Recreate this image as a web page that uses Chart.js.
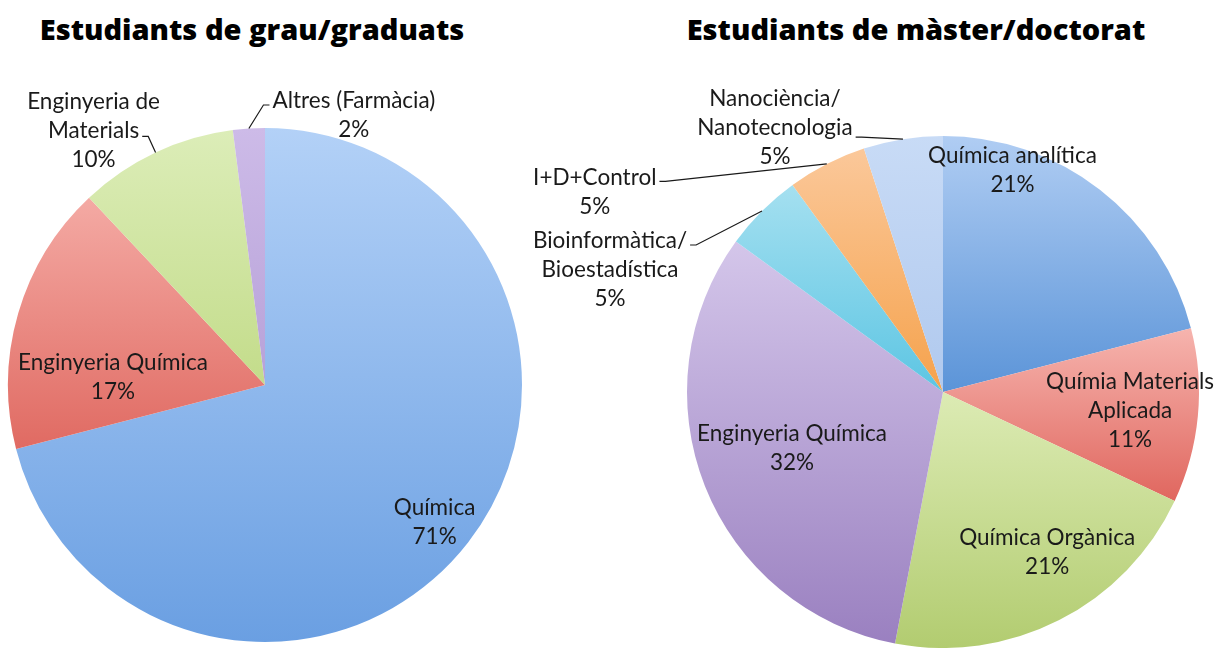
<!doctype html>
<html lang="ca">
<head>
  <meta charset="utf-8">
  <title>Estudiants de grau i màster</title>
  <style>
    * {
      margin: 0;
      padding: 0;
    }
    body {
      width: 1218px;
      height: 648px;
      position: relative;
      overflow: hidden;
      background: white;
    }
    .chartTitle {
      position: absolute;
      top: 9px;
      font: 800 29px "Open Sans", sans-serif;
      color: black;
      text-align: center;
      white-space: nowrap;
    }
    #titleGrau { left: 0; width: 504px; }
    #titleMaster { left: 616px; width: 600px; }
    #grauChart { position: absolute; left: 0; top: 0; }
    #masterChart { position: absolute; left: 530px; top: 0; }
  </style>
</head>
<body>
  <div class="chartTitle" id="titleGrau">Estudiants de grau/graduats</div>
  <div class="chartTitle" id="titleMaster">Estudiants de màster/doctorat</div>
  <canvas id="grauChart" width="530" height="648"></canvas>
  <canvas id="masterChart" width="688" height="648"></canvas>

  <script src="https://cdn.jsdelivr.net/npm/chart.js"></script>
  <script>
    // data: grau / graduats
    const grauLabels = ['Química', 'Enginyeria Química', ['Enginyeria de', 'Materials'], 'Altres (Farmàcia)'];
    const grauValues = [71, 17, 10, 2];

    // data: màster / doctorat
    const masterLabels = [
      'Química analítica',
      ['Químia Materials', 'Aplicada'],
      'Química Orgànica',
      'Enginyeria Química',
      ['Bioinformàtica/', 'Bioestadística'],
      'I+D+Control',
      ['Nanociència/', 'Nanotecnologia']
    ];
    const masterValues = [21, 11, 21, 32, 5, 5, 5];

    // slice colours, [top, bottom] of the gradient
    const grauColors = [
      ['#b3d1f7', '#6a9fe2'],
      ['#f4aaa4', '#e06a62'],
      ['#dcedb8', '#c3dc8a'],
      ['#cdbbe8', '#b7a1d8']
    ];
    const masterColors = [
      ['#b0cdf3', '#5b94d8'],
      ['#f6b4ae', '#e0665e'],
      ['#dcebb4', '#b2cc70'],
      ['#d4c6ea', '#9a80c0'],
      ['#a5e0f0', '#5cc5e3'],
      ['#fbc89a', '#f5a24c'],
      ['#c8dbf6', '#b0c9ee']
    ];

    // where the labels go: r = fraction of radius along the slice middle, then nudge
    const grauLabelPos = [
      { r: 0.85, dx: -3, dy: 3 },
      { r: 0.6, dx: -4, dy: 35 },
      { r: 1, dx: -62, dy: -22, leader: { line: 1, side: 'right', dy: 6 } },
      { r: 1, dx: 105, dy: -13, leader: { line: 0, side: 'left', dy: 4 } }
    ];
    const masterLabelPos = [
      { r: 0.87, dx: -67, dy: -46 },
      { r: 0.73, dx: 1, dy: 1 },
      { r: 0.75, dx: 17, dy: -11 },
      { r: 0.63, dx: -1, dy: -3 },
      { r: 1, dx: -152, dy: 59, leader: { line: 0, side: 'right', dy: 4 } },
      { r: 1, dx: -232, dy: 28, leader: { line: 0, side: 'right', dy: 4 } },
      { r: 1, dx: -128, dy: -11, leader: { line: 1, side: 'right', dy: 9 } }
    ];

    const LINE_H = 29;
    const LABEL_FONT = '22.5px Lato, sans-serif';

    // vertical gradient over the bounding box of one slice
    function sliceGradient(context, colors) {
      const chart = context.chart;
      const area = chart.chartArea;
      const pair = colors[context.dataIndex];
      if (!area) return pair[0];
      const data = chart.data.datasets[0].data;
      const total = data.reduce((a, b) => a + b, 0);
      let before = 0;
      for (let k = 0; k < context.dataIndex; k++) before += data[k];
      const start = -Math.PI / 2 + 2 * Math.PI * before / total;
      const end = start + 2 * Math.PI * data[context.dataIndex] / total;
      const r = Math.min(area.right - area.left, area.bottom - area.top) / 2;
      const cy = (area.top + area.bottom) / 2;
      let minY = cy, maxY = cy;
      for (let s = 0; s <= 40; s++) {
        const a = start + (end - start) * s / 40;
        const yy = cy + Math.sin(a) * r;
        minY = Math.min(minY, yy);
        maxY = Math.max(maxY, yy);
      }
      const g = chart.ctx.createLinearGradient(0, minY, 0, maxY + 1);
      g.addColorStop(0, pair[0]);
      g.addColorStop(1, pair[1]);
      return g;
    }

    // text labels and leader lines
    const sliceLabels = {
      id: 'sliceLabels',
      afterDatasetsDraw(chart, args, opts) {
        const ctx = chart.ctx;
        const meta = chart.getDatasetMeta(0);
        const values = chart.data.datasets[0].data;
        ctx.save();
        ctx.font = LABEL_FONT;
        ctx.fillStyle = '#1a1a1a';
        ctx.strokeStyle = '#1a1a1a';
        ctx.lineWidth = 1.2;
        ctx.textAlign = 'center';
        ctx.textBaseline = 'middle';
        meta.data.forEach((arc, i) => {
          const p = opts.pos[i];
          const { x, y, startAngle, endAngle, outerRadius } =
            arc.getProps(['x', 'y', 'startAngle', 'endAngle', 'outerRadius'], true);
          const mid = (startAngle + endAngle) / 2;
          const px = x + Math.cos(mid) * outerRadius * p.r + p.dx;
          const py = y + Math.sin(mid) * outerRadius * p.r + p.dy;
          const lab = chart.data.labels[i];
          const lines = (Array.isArray(lab) ? lab : [lab]).concat(values[i] + '%');
          const top = py - (lines.length - 1) * LINE_H / 2;
          lines.forEach((t, k) => ctx.fillText(t, px, top + k * LINE_H));

          if (p.leader) {
            const w = ctx.measureText(lines[p.leader.line]).width;
            const sign = p.leader.side === 'right' ? 1 : -1;
            const ax = px + sign * (w / 2 + 3);
            const ay = top + p.leader.line * LINE_H + p.leader.dy;
            const ex = x + Math.cos(mid) * outerRadius;
            const ey = y + Math.sin(mid) * outerRadius;
            ctx.beginPath();
            ctx.moveTo(ax, ay);
            ctx.lineTo(ax + sign * 6, ay);
            ctx.lineTo(ex, ey);
            ctx.stroke();
          }
        });
        ctx.restore();
      }
    };

    function makePie(canvasId, labels, values, colors, labelPos, padding) {
      return new Chart(document.getElementById(canvasId), {
        type: 'pie',
        data: {
          labels: labels,
          datasets: [{
            data: values,
            backgroundColor: (c) => sliceGradient(c, colors),
            borderWidth: 0,
            hoverOffset: 0
          }]
        },
        options: {
          responsive: false,
          animation: false,
          layout: { padding: padding },
          plugins: {
            legend: { display: false },
            tooltip: { enabled: false },
            sliceLabels: { pos: labelPos }
          }
        },
        plugins: [sliceLabels]
      });
    }

    makePie('grauChart', grauLabels, grauValues, grauColors, grauLabelPos,
      { left: 8, right: 8, top: 128, bottom: 6 });
    makePie('masterChart', masterLabels, masterValues, masterColors, masterLabelPos,
      { left: 155, right: 17, top: 136, bottom: 0 });
  </script>
</body>
</html>
